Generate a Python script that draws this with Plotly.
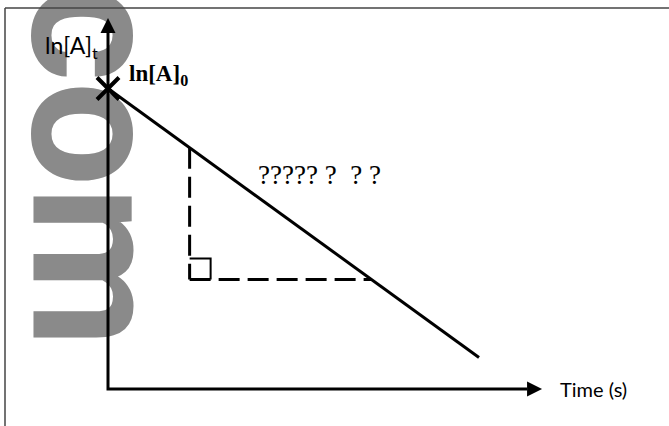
import plotly.graph_objects as go

# Integrated first-order rate law: ln[A] falls linearly with time
time_s = [0.0, 10.0]
ln_A = [8.1, 0.85]

# Slope triangle: vertical leg at this time, horizontal leg at this ln[A]
tri_time = 2.2
tri_ln = 2.95

# Axis extents (arrow tips)
time_axis_end = 11.7
ln_axis_end = 10.0

x_label = "Time (s)"
y_label = "ln[A]<sub>t</sub>"
intercept_label = "<b>ln[A]<sub>0</sub></b>"
slope_label = "?????\u00a0?\u00a0\u00a0?\u00a0?"
watermark = "com"

# Drawing scale
W, H = 669, 426
PX = 37.1                  # pixels per data unit
ORIGIN_X, ORIGIN_Y = 108, 389
ARROW = 15                 # arrow head length, px
SQUARE = 21                # right-angle mark, px
MARK_X, MARK_Y = 110, 166  # watermark centre, px

slope = (ln_A[1] - ln_A[0]) / (time_s[1] - time_s[0])


def ln_at(t):
    return ln_A[0] + slope * (t - time_s[0])


def t_at(v):
    return time_s[0] + (v - ln_A[0]) / slope


fig = go.Figure()

# Axes
head = ARROW / PX
fig.add_trace(go.Scatter(
    x=[0, 0, time_axis_end - head], y=[ln_axis_end - head, 0, 0],
    mode="lines", line=dict(color="black", width=3), hoverinfo="skip"))
fig.add_trace(go.Scatter(
    x=[0], y=[ln_axis_end], mode="markers",
    marker=dict(symbol="arrow-up", size=ARROW, color="black", line=dict(width=0)),
    hoverinfo="skip"))
fig.add_trace(go.Scatter(
    x=[time_axis_end], y=[0], mode="markers",
    marker=dict(symbol="arrow-right", size=ARROW, color="black", line=dict(width=0)),
    hoverinfo="skip"))

# Slope triangle (dashed legs)
fig.add_trace(go.Scatter(
    x=[tri_time, tri_time], y=[ln_at(tri_time), tri_ln],
    mode="lines", line=dict(color="black", width=3, dash="21px,8px"), hoverinfo="skip"))
fig.add_trace(go.Scatter(
    x=[tri_time, t_at(tri_ln)], y=[tri_ln, tri_ln],
    mode="lines", line=dict(color="black", width=3, dash="21px,8px"), hoverinfo="skip"))

# Right-angle mark
s = SQUARE / PX
fig.add_trace(go.Scatter(
    x=[tri_time, tri_time + s, tri_time + s], y=[tri_ln + s, tri_ln + s, tri_ln],
    mode="lines", line=dict(color="black", width=2), hoverinfo="skip"))

# Data line
fig.add_trace(go.Scatter(
    x=time_s, y=ln_A, mode="lines",
    line=dict(color="black", width=3), hoverinfo="skip"))

# Intercept marker
fig.add_trace(go.Scatter(
    x=[time_s[0]], y=[ln_A[0]], mode="markers",
    marker=dict(symbol="x-thin", size=22, color="black",
                line=dict(color="black", width=4)),
    hoverinfo="skip"))

annotations = [
    dict(x=0, y=ln_axis_end, xref="x", yref="y", text=y_label, showarrow=False,
         xanchor="right", yanchor="middle", xshift=-8, yshift=-28,
         font=dict(family="Lato", size=23, color="black")),
    dict(x=time_s[0], y=ln_A[0], xref="x", yref="y", text=intercept_label,
         showarrow=False, xanchor="left", yanchor="middle", xshift=19, yshift=13,
         font=dict(family="Liberation Serif", size=23, color="black")),
    dict(x=time_axis_end, y=0, xref="x", yref="y", text=x_label, showarrow=False,
         xanchor="left", yanchor="middle", xshift=16, yshift=0,
         font=dict(family="Lato", size=20, color="black")),
    dict(x=4.0, y=5.77, xref="x", yref="y", text=slope_label, showarrow=False,
         xanchor="left", yanchor="middle",
         font=dict(family="Liberation Serif", size=27, color="black")),
]

shapes = [
    # outer frame (top and left edges)
    dict(type="line", xref="paper", yref="paper", x0=5 / W, x1=1.01,
         y0=1 - 8 / H, y1=1 - 8 / H, line=dict(color="#444444", width=1.5)),
    dict(type="line", xref="paper", yref="paper", x0=5 / W, x1=5 / W,
         y0=1 - 8 / H, y1=-0.01, line=dict(color="#444444", width=1.5)),
    # watermark behind the drawing
    dict(type="rect", xref="paper", yref="paper", layer="below",
         x0=(MARK_X - 10) / W, x1=(MARK_X + 10) / W,
         y0=1 - (MARK_Y + 10) / H, y1=1 - (MARK_Y - 10) / H,
         line=dict(width=0, color="rgb(138,138,138)"), fillcolor="rgba(0,0,0,0)",
         label=dict(text=watermark, textangle=90, textposition="middle center",
                    font=dict(family="Roboto", size=186, color="rgb(138,138,138)",
                              weight="bold"))),
]

fig.update_layout(
    width=W, height=H, autosize=False,
    margin=dict(l=0, r=0, t=0, b=0),
    paper_bgcolor="white", plot_bgcolor="white",
    showlegend=False,
    xaxis=dict(visible=False, range=[-ORIGIN_X / PX, (W - ORIGIN_X) / PX], fixedrange=True),
    yaxis=dict(visible=False, range=[-(H - ORIGIN_Y) / PX, ORIGIN_Y / PX], fixedrange=True),
    annotations=annotations,
    shapes=shapes,
)

fig.write_html("out.html")
